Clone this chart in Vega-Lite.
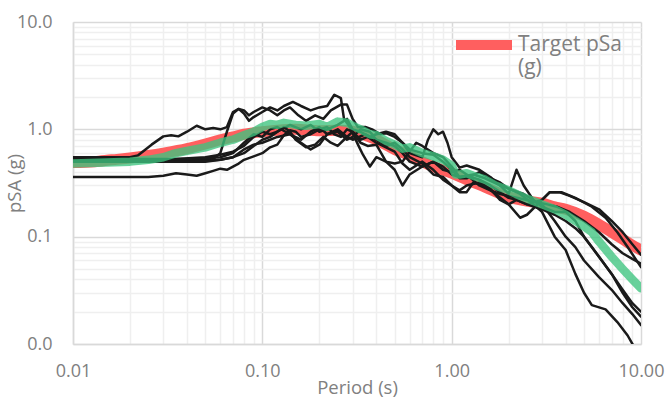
{
  "$schema": "https://vega.github.io/schema/vega-lite/v6.json",
  "autosize": "none",
  "width": 568,
  "height": 322,
  "padding": {"left": 73, "top": 22, "right": 29, "bottom": 54},
  "background": "white",
  "config": {
    "font": "Open Sans",
    "view": {"stroke": null},
    "axis": {
      "labelFont": "Open Sans",
      "titleFont": "Open Sans",
      "labelColor": "#808080",
      "titleColor": "#808080",
      "labelFontSize": 18,
      "titleFontSize": 18.5,
      "titleFontWeight": "normal",
      "ticks": false,
      "tickSize": 0,
      "domainColor": "#d9d9d9",
      "domainWidth": 1.5,
      "labelOverlap": false,
      "labelFlush": false,
      "labelBound": false
    }
  },
  "data": {
    "values": [
      {"s":"Target","T":0.01,"v":0.49},{"s":"Target","T":0.013,"v":0.5},{"s":"Target","T":0.016,"v":0.52},{"s":"Target","T":0.02,"v":0.54},{"s":"Target","T":0.025,"v":0.57},{"s":"Target","T":0.03,"v":0.6},{"s":"Target","T":0.04,"v":0.66},{"s":"Target","T":0.05,"v":0.73},{"s":"Target","T":0.06,"v":0.8},{"s":"Target","T":0.07,"v":0.85},{"s":"Target","T":0.08,"v":0.9},{"s":"Target","T":0.1,"v":0.95},{"s":"Target","T":0.12,"v":0.98},{"s":"Target","T":0.15,"v":1.0},{"s":"Target","T":0.2,"v":0.97},{"s":"Target","T":0.25,"v":0.98},{"s":"Target","T":0.3,"v":0.96},{"s":"Target","T":0.35,"v":0.88},{"s":"Target","T":0.4,"v":0.8},{"s":"Target","T":0.5,"v":0.65},{"s":"Target","T":0.6,"v":0.57},{"s":"Target","T":0.7,"v":0.5},{"s":"Target","T":0.8,"v":0.45},{"s":"Target","T":1.0,"v":0.39},{"s":"Target","T":1.2,"v":0.34},{"s":"Target","T":1.5,"v":0.29},{"s":"Target","T":2.0,"v":0.235},{"s":"Target","T":2.5,"v":0.215},{"s":"Target","T":3.0,"v":0.205},{"s":"Target","T":3.5,"v":0.19},{"s":"Target","T":4.0,"v":0.18},{"s":"Target","T":5.0,"v":0.155},{"s":"Target","T":6.0,"v":0.13},{"s":"Target","T":7.0,"v":0.11},{"s":"Target","T":8.0,"v":0.095},{"s":"Target","T":9.0,"v":0.083},{"s":"Target","T":10.0,"v":0.075},

      {"s":"Mean","T":0.01,"v":0.48},{"s":"Mean","T":0.015,"v":0.49},{"s":"Mean","T":0.02,"v":0.5},{"s":"Mean","T":0.025,"v":0.52},{"s":"Mean","T":0.03,"v":0.55},{"s":"Mean","T":0.035,"v":0.6},{"s":"Mean","T":0.04,"v":0.63},{"s":"Mean","T":0.05,"v":0.68},{"s":"Mean","T":0.06,"v":0.75},{"s":"Mean","T":0.07,"v":0.8},{"s":"Mean","T":0.08,"v":0.88},{"s":"Mean","T":0.09,"v":0.95},{"s":"Mean","T":0.1,"v":1.05},{"s":"Mean","T":0.11,"v":1.12},{"s":"Mean","T":0.12,"v":1.1},{"s":"Mean","T":0.13,"v":1.15},{"s":"Mean","T":0.15,"v":1.1},{"s":"Mean","T":0.17,"v":1.08},{"s":"Mean","T":0.2,"v":1.12},{"s":"Mean","T":0.22,"v":1.05},{"s":"Mean","T":0.25,"v":1.18},{"s":"Mean","T":0.28,"v":1.15},{"s":"Mean","T":0.3,"v":1.08},{"s":"Mean","T":0.33,"v":1.0},{"s":"Mean","T":0.37,"v":0.9},{"s":"Mean","T":0.4,"v":0.88},{"s":"Mean","T":0.45,"v":0.78},{"s":"Mean","T":0.5,"v":0.72},{"s":"Mean","T":0.55,"v":0.66},{"s":"Mean","T":0.6,"v":0.68},{"s":"Mean","T":0.7,"v":0.6},{"s":"Mean","T":0.8,"v":0.56},{"s":"Mean","T":0.9,"v":0.52},{"s":"Mean","T":1.0,"v":0.46},{"s":"Mean","T":1.05,"v":0.38},{"s":"Mean","T":1.1,"v":0.38},{"s":"Mean","T":1.2,"v":0.39},{"s":"Mean","T":1.3,"v":0.37},{"s":"Mean","T":1.5,"v":0.34},{"s":"Mean","T":1.7,"v":0.3},{"s":"Mean","T":2.0,"v":0.27},{"s":"Mean","T":2.3,"v":0.24},{"s":"Mean","T":2.6,"v":0.22},{"s":"Mean","T":3.0,"v":0.2},{"s":"Mean","T":3.5,"v":0.18},{"s":"Mean","T":4.0,"v":0.16},{"s":"Mean","T":4.5,"v":0.14},{"s":"Mean","T":5.0,"v":0.125},{"s":"Mean","T":5.5,"v":0.11},{"s":"Mean","T":6.0,"v":0.09},{"s":"Mean","T":7.0,"v":0.065},{"s":"Mean","T":8.0,"v":0.05},{"s":"Mean","T":9.0,"v":0.04},{"s":"Mean","T":10.0,"v":0.033},

      {"s":"A","T":0.01,"v":0.55},{"s":"A","T":0.02,"v":0.55},{"s":"A","T":0.022,"v":0.57},{"s":"A","T":0.026,"v":0.72},{"s":"A","T":0.03,"v":0.86},{"s":"A","T":0.033,"v":0.88},{"s":"A","T":0.036,"v":0.86},{"s":"A","T":0.04,"v":0.95},{"s":"A","T":0.045,"v":1.08},{"s":"A","T":0.05,"v":1.0},{"s":"A","T":0.055,"v":1.03},{"s":"A","T":0.06,"v":1.0},{"s":"A","T":0.065,"v":1.05},{"s":"A","T":0.07,"v":1.45},{"s":"A","T":0.075,"v":1.55},{"s":"A","T":0.08,"v":1.4},{"s":"A","T":0.085,"v":1.2},{"s":"A","T":0.09,"v":1.3},{"s":"A","T":0.1,"v":1.45},{"s":"A","T":0.11,"v":1.6},{"s":"A","T":0.12,"v":1.5},{"s":"A","T":0.13,"v":1.65},{"s":"A","T":0.145,"v":1.8},{"s":"A","T":0.16,"v":1.65},{"s":"A","T":0.18,"v":1.5},{"s":"A","T":0.2,"v":1.6},{"s":"A","T":0.22,"v":1.65},{"s":"A","T":0.24,"v":2.1},{"s":"A","T":0.26,"v":1.95},{"s":"A","T":0.27,"v":1.25},{"s":"A","T":0.29,"v":1.05},{"s":"A","T":0.32,"v":0.72},{"s":"A","T":0.34,"v":0.58},{"s":"A","T":0.37,"v":0.45},{"s":"A","T":0.4,"v":0.55},{"s":"A","T":0.45,"v":0.5},{"s":"A","T":0.5,"v":0.48},{"s":"A","T":0.55,"v":0.5},{"s":"A","T":0.6,"v":0.62},{"s":"A","T":0.65,"v":0.75},{"s":"A","T":0.7,"v":0.7},{"s":"A","T":0.8,"v":0.6},{"s":"A","T":0.9,"v":0.55},{"s":"A","T":1.0,"v":0.45},{"s":"A","T":1.1,"v":0.36},{"s":"A","T":1.2,"v":0.37},{"s":"A","T":1.4,"v":0.34},{"s":"A","T":1.6,"v":0.3},{"s":"A","T":1.8,"v":0.26},{"s":"A","T":2.0,"v":0.23},{"s":"A","T":2.2,"v":0.22},{"s":"A","T":2.5,"v":0.2},{"s":"A","T":3.0,"v":0.22},{"s":"A","T":3.3,"v":0.26},{"s":"A","T":3.7,"v":0.26},{"s":"A","T":4.2,"v":0.24},{"s":"A","T":5.0,"v":0.21},{"s":"A","T":6.0,"v":0.18},{"s":"A","T":7.0,"v":0.14},{"s":"A","T":8.0,"v":0.11},{"s":"A","T":9.0,"v":0.085},{"s":"A","T":10.0,"v":0.068},

      {"s":"B","T":0.01,"v":0.52},{"s":"B","T":0.03,"v":0.52},{"s":"B","T":0.05,"v":0.52},{"s":"B","T":0.055,"v":0.53},{"s":"B","T":0.06,"v":0.6},{"s":"B","T":0.065,"v":0.95},{"s":"B","T":0.07,"v":1.4},{"s":"B","T":0.075,"v":1.55},{"s":"B","T":0.08,"v":1.5},{"s":"B","T":0.085,"v":1.35},{"s":"B","T":0.09,"v":1.45},{"s":"B","T":0.1,"v":1.6},{"s":"B","T":0.11,"v":1.5},{"s":"B","T":0.12,"v":1.35},{"s":"B","T":0.13,"v":1.5},{"s":"B","T":0.14,"v":1.6},{"s":"B","T":0.155,"v":1.35},{"s":"B","T":0.17,"v":1.2},{"s":"B","T":0.19,"v":1.35},{"s":"B","T":0.21,"v":1.25},{"s":"B","T":0.23,"v":1.5},{"s":"B","T":0.26,"v":1.7},{"s":"B","T":0.28,"v":1.7},{"s":"B","T":0.3,"v":1.25},{"s":"B","T":0.32,"v":1.05},{"s":"B","T":0.35,"v":1.05},{"s":"B","T":0.38,"v":1.0},{"s":"B","T":0.42,"v":0.9},{"s":"B","T":0.45,"v":0.92},{"s":"B","T":0.5,"v":0.85},{"s":"B","T":0.55,"v":0.75},{"s":"B","T":0.6,"v":0.6},{"s":"B","T":0.7,"v":0.55},{"s":"B","T":0.75,"v":0.8},{"s":"B","T":0.8,"v":1.0},{"s":"B","T":0.85,"v":0.9},{"s":"B","T":0.9,"v":0.95},{"s":"B","T":0.95,"v":0.75},{"s":"B","T":1.0,"v":0.55},{"s":"B","T":1.1,"v":0.44},{"s":"B","T":1.2,"v":0.46},{"s":"B","T":1.4,"v":0.42},{"s":"B","T":1.6,"v":0.36},{"s":"B","T":1.8,"v":0.3},{"s":"B","T":2.0,"v":0.25},{"s":"B","T":2.2,"v":0.42},{"s":"B","T":2.4,"v":0.3},{"s":"B","T":2.7,"v":0.22},{"s":"B","T":3.0,"v":0.19},{"s":"B","T":3.5,"v":0.17},{"s":"B","T":4.0,"v":0.17},{"s":"B","T":4.5,"v":0.14},{"s":"B","T":5.0,"v":0.1},{"s":"B","T":5.5,"v":0.08},{"s":"B","T":6.0,"v":0.065},{"s":"B","T":7.0,"v":0.045},{"s":"B","T":8.0,"v":0.03},{"s":"B","T":9.0,"v":0.022},{"s":"B","T":10.0,"v":0.018},

      {"s":"C","T":0.01,"v":0.5},{"s":"C","T":0.03,"v":0.52},{"s":"C","T":0.05,"v":0.55},{"s":"C","T":0.06,"v":0.58},{"s":"C","T":0.07,"v":0.62},{"s":"C","T":0.08,"v":0.7},{"s":"C","T":0.09,"v":0.85},{"s":"C","T":0.1,"v":0.95},{"s":"C","T":0.11,"v":0.9},{"s":"C","T":0.12,"v":0.95},{"s":"C","T":0.13,"v":1.05},{"s":"C","T":0.14,"v":0.95},{"s":"C","T":0.15,"v":0.8},{"s":"C","T":0.17,"v":0.68},{"s":"C","T":0.19,"v":0.72},{"s":"C","T":0.21,"v":0.85},{"s":"C","T":0.23,"v":0.75},{"s":"C","T":0.25,"v":0.7},{"s":"C","T":0.27,"v":0.8},{"s":"C","T":0.3,"v":0.95},{"s":"C","T":0.33,"v":0.8},{"s":"C","T":0.36,"v":0.85},{"s":"C","T":0.4,"v":0.75},{"s":"C","T":0.45,"v":0.68},{"s":"C","T":0.5,"v":0.62},{"s":"C","T":0.55,"v":0.48},{"s":"C","T":0.6,"v":0.42},{"s":"C","T":0.7,"v":0.5},{"s":"C","T":0.8,"v":0.42},{"s":"C","T":0.9,"v":0.34},{"s":"C","T":1.0,"v":0.3},{"s":"C","T":1.1,"v":0.26},{"s":"C","T":1.2,"v":0.26},{"s":"C","T":1.3,"v":0.32},{"s":"C","T":1.5,"v":0.3},{"s":"C","T":1.7,"v":0.25},{"s":"C","T":2.0,"v":0.2},{"s":"C","T":2.3,"v":0.15},{"s":"C","T":2.5,"v":0.16},{"s":"C","T":3.0,"v":0.22},{"s":"C","T":3.3,"v":0.26},{"s":"C","T":3.8,"v":0.26},{"s":"C","T":4.5,"v":0.23},{"s":"C","T":5.5,"v":0.19},{"s":"C","T":6.5,"v":0.15},{"s":"C","T":7.5,"v":0.11},{"s":"C","T":8.5,"v":0.08},{"s":"C","T":10.0,"v":0.052},

      {"s":"D","T":0.01,"v":0.36},{"s":"D","T":0.025,"v":0.36},{"s":"D","T":0.03,"v":0.37},{"s":"D","T":0.035,"v":0.39},{"s":"D","T":0.04,"v":0.38},{"s":"D","T":0.045,"v":0.37},{"s":"D","T":0.05,"v":0.39},{"s":"D","T":0.055,"v":0.41},{"s":"D","T":0.06,"v":0.43},{"s":"D","T":0.065,"v":0.42},{"s":"D","T":0.07,"v":0.45},{"s":"D","T":0.075,"v":0.48},{"s":"D","T":0.08,"v":0.52},{"s":"D","T":0.09,"v":0.56},{"s":"D","T":0.1,"v":0.6},{"s":"D","T":0.11,"v":0.68},{"s":"D","T":0.12,"v":0.72},{"s":"D","T":0.13,"v":0.88},{"s":"D","T":0.14,"v":0.98},{"s":"D","T":0.15,"v":0.95},{"s":"D","T":0.16,"v":0.85},{"s":"D","T":0.18,"v":0.9},{"s":"D","T":0.2,"v":1.0},{"s":"D","T":0.22,"v":1.05},{"s":"D","T":0.24,"v":0.9},{"s":"D","T":0.26,"v":0.85},{"s":"D","T":0.28,"v":1.0},{"s":"D","T":0.3,"v":0.95},{"s":"D","T":0.33,"v":0.75},{"s":"D","T":0.36,"v":0.7},{"s":"D","T":0.4,"v":0.72},{"s":"D","T":0.45,"v":0.5},{"s":"D","T":0.5,"v":0.42},{"s":"D","T":0.55,"v":0.3},{"s":"D","T":0.6,"v":0.38},{"s":"D","T":0.7,"v":0.45},{"s":"D","T":0.8,"v":0.5},{"s":"D","T":0.9,"v":0.42},{"s":"D","T":1.0,"v":0.4},{"s":"D","T":1.1,"v":0.42},{"s":"D","T":1.2,"v":0.38},{"s":"D","T":1.4,"v":0.3},{"s":"D","T":1.6,"v":0.27},{"s":"D","T":1.8,"v":0.25},{"s":"D","T":2.0,"v":0.24},{"s":"D","T":2.5,"v":0.22},{"s":"D","T":3.0,"v":0.2},{"s":"D","T":3.5,"v":0.14},{"s":"D","T":4.0,"v":0.1},{"s":"D","T":4.5,"v":0.08},{"s":"D","T":5.0,"v":0.06},{"s":"D","T":6.0,"v":0.042},{"s":"D","T":7.0,"v":0.032},{"s":"D","T":8.0,"v":0.024},{"s":"D","T":9.0,"v":0.019},{"s":"D","T":10.0,"v":0.015},

      {"s":"E","T":0.01,"v":0.5},{"s":"E","T":0.04,"v":0.5},{"s":"E","T":0.06,"v":0.52},{"s":"E","T":0.07,"v":0.55},{"s":"E","T":0.08,"v":0.65},{"s":"E","T":0.09,"v":0.72},{"s":"E","T":0.1,"v":0.75},{"s":"E","T":0.12,"v":0.85},{"s":"E","T":0.14,"v":0.9},{"s":"E","T":0.16,"v":0.75},{"s":"E","T":0.18,"v":0.65},{"s":"E","T":0.2,"v":0.72},{"s":"E","T":0.22,"v":0.9},{"s":"E","T":0.25,"v":1.0},{"s":"E","T":0.28,"v":0.85},{"s":"E","T":0.3,"v":0.8},{"s":"E","T":0.35,"v":0.9},{"s":"E","T":0.4,"v":0.8},{"s":"E","T":0.45,"v":0.75},{"s":"E","T":0.5,"v":0.7},{"s":"E","T":0.55,"v":0.6},{"s":"E","T":0.6,"v":0.5},{"s":"E","T":0.7,"v":0.45},{"s":"E","T":0.8,"v":0.5},{"s":"E","T":0.9,"v":0.45},{"s":"E","T":1.0,"v":0.38},{"s":"E","T":1.1,"v":0.36},{"s":"E","T":1.3,"v":0.38},{"s":"E","T":1.5,"v":0.35},{"s":"E","T":1.8,"v":0.3},{"s":"E","T":2.0,"v":0.28},{"s":"E","T":2.3,"v":0.25},{"s":"E","T":2.7,"v":0.2},{"s":"E","T":3.0,"v":0.17},{"s":"E","T":3.5,"v":0.1},{"s":"E","T":4.0,"v":0.075},{"s":"E","T":4.5,"v":0.045},{"s":"E","T":5.0,"v":0.03},{"s":"E","T":5.5,"v":0.023},{"s":"E","T":6.5,"v":0.021},{"s":"E","T":7.5,"v":0.016},{"s":"E","T":8.5,"v":0.012},{"s":"E","T":9.5,"v":0.0085},{"s":"E","T":10.0,"v":0.007},

      {"s":"F","T":0.01,"v":0.5},{"s":"F","T":0.03,"v":0.5},{"s":"F","T":0.05,"v":0.5},{"s":"F","T":0.06,"v":0.52},{"s":"F","T":0.07,"v":0.55},{"s":"F","T":0.08,"v":0.6},{"s":"F","T":0.09,"v":0.7},{"s":"F","T":0.1,"v":0.8},{"s":"F","T":0.11,"v":0.85},{"s":"F","T":0.12,"v":0.95},{"s":"F","T":0.14,"v":1.1},{"s":"F","T":0.16,"v":1.0},{"s":"F","T":0.18,"v":1.1},{"s":"F","T":0.2,"v":0.95},{"s":"F","T":0.22,"v":1.0},{"s":"F","T":0.25,"v":1.1},{"s":"F","T":0.28,"v":1.25},{"s":"F","T":0.3,"v":1.0},{"s":"F","T":0.33,"v":0.95},{"s":"F","T":0.37,"v":0.85},{"s":"F","T":0.4,"v":0.9},{"s":"F","T":0.45,"v":0.95},{"s":"F","T":0.5,"v":0.9},{"s":"F","T":0.55,"v":0.75},{"s":"F","T":0.6,"v":0.65},{"s":"F","T":0.7,"v":0.6},{"s":"F","T":0.8,"v":0.58},{"s":"F","T":0.9,"v":0.5},{"s":"F","T":1.0,"v":0.42},{"s":"F","T":1.1,"v":0.35},{"s":"F","T":1.2,"v":0.35},{"s":"F","T":1.4,"v":0.4},{"s":"F","T":1.6,"v":0.35},{"s":"F","T":1.8,"v":0.32},{"s":"F","T":2.0,"v":0.28},{"s":"F","T":2.4,"v":0.25},{"s":"F","T":2.8,"v":0.21},{"s":"F","T":3.2,"v":0.2},{"s":"F","T":3.6,"v":0.19},{"s":"F","T":4.2,"v":0.17},{"s":"F","T":5.0,"v":0.14},{"s":"F","T":6.0,"v":0.11},{"s":"F","T":7.0,"v":0.085},{"s":"F","T":8.0,"v":0.07},{"s":"F","T":9.0,"v":0.062},{"s":"F","T":10.0,"v":0.056},

      {"s":"G","T":0.01,"v":0.53},{"s":"G","T":0.04,"v":0.53},{"s":"G","T":0.06,"v":0.55},{"s":"G","T":0.07,"v":0.6},{"s":"G","T":0.08,"v":0.75},{"s":"G","T":0.09,"v":0.9},{"s":"G","T":0.1,"v":0.85},{"s":"G","T":0.11,"v":1.0},{"s":"G","T":0.12,"v":1.05},{"s":"G","T":0.14,"v":0.9},{"s":"G","T":0.16,"v":0.8},{"s":"G","T":0.18,"v":0.95},{"s":"G","T":0.2,"v":1.05},{"s":"G","T":0.22,"v":0.9},{"s":"G","T":0.25,"v":0.95},{"s":"G","T":0.28,"v":0.8},{"s":"G","T":0.3,"v":0.85},{"s":"G","T":0.33,"v":1.0},{"s":"G","T":0.37,"v":0.95},{"s":"G","T":0.4,"v":0.8},{"s":"G","T":0.45,"v":0.7},{"s":"G","T":0.5,"v":0.75},{"s":"G","T":0.55,"v":0.65},{"s":"G","T":0.6,"v":0.55},{"s":"G","T":0.7,"v":0.48},{"s":"G","T":0.8,"v":0.38},{"s":"G","T":0.9,"v":0.36},{"s":"G","T":1.0,"v":0.3},{"s":"G","T":1.1,"v":0.27},{"s":"G","T":1.2,"v":0.3},{"s":"G","T":1.4,"v":0.32},{"s":"G","T":1.6,"v":0.28},{"s":"G","T":1.8,"v":0.22},{"s":"G","T":2.0,"v":0.2},{"s":"G","T":2.2,"v":0.22},{"s":"G","T":2.5,"v":0.2},{"s":"G","T":3.0,"v":0.18},{"s":"G","T":3.5,"v":0.16},{"s":"G","T":4.0,"v":0.14},{"s":"G","T":4.5,"v":0.12},{"s":"G","T":5.0,"v":0.1},{"s":"G","T":6.0,"v":0.065},{"s":"G","T":7.0,"v":0.045},{"s":"G","T":8.0,"v":0.032},{"s":"G","T":9.0,"v":0.024},{"s":"G","T":10.0,"v":0.02}
    ]
  },
  "encoding": {
    "x": {
      "field": "T", "type": "quantitative",
      "scale": {"type": "log", "domain": [0.01, 10], "nice": false},
      "axis": {
        "title": "Period (s)",
        "values": [0.01,0.02,0.03,0.04,0.05,0.06,0.07,0.08,0.09,0.1,0.2,0.3,0.4,0.5,0.6,0.7,0.8,0.9,1,2,3,4,5,6,7,8,9,10],
        "labelExpr": "abs(log(datum.value)/LN10 - round(log(datum.value)/LN10)) < 0.001 ? format(datum.value, '.2f') : ''",
        "grid": true,
        "gridColor": {"condition": {"test": "abs(log(datum.value)/LN10 - round(log(datum.value)/LN10)) < 0.001", "value": "#d9d9d9"}, "value": "#efefef"},
        "gridWidth": 1.5,
        "labelPadding": 18,
        "titleBaseline": "middle",
        "titleY": 43
      }
    },
    "y": {
      "field": "v", "type": "quantitative",
      "scale": {"type": "log", "domain": [0.01, 10], "nice": false},
      "axis": {
        "title": "pSA (g)",
        "values": [0.01,0.02,0.03,0.04,0.05,0.06,0.07,0.08,0.09,0.1,0.2,0.3,0.4,0.5,0.6,0.7,0.8,0.9,1,2,3,4,5,6,7,8,9,10],
        "labelExpr": "abs(log(datum.value)/LN10 - round(log(datum.value)/LN10)) < 0.001 ? format(datum.value, '.1f') : ''",
        "grid": true,
        "gridColor": {"condition": {"test": "abs(log(datum.value)/LN10 - round(log(datum.value)/LN10)) < 0.001", "value": "#d9d9d9"}, "value": "#efefef"},
        "gridWidth": 1.5,
        "labelPadding": 21,
        "titleX": -59,
        "titleY": 161,
        "titleBaseline": "middle",
        "titleAngle": -90
      }
    }
  },
  "layer": [
    {
      "transform": [{"filter": "datum.s === 'Target'"}],
      "mark": {"type": "line", "clip": true, "strokeWidth": 11, "strokeCap": "round", "strokeJoin": "round", "interpolate": "monotone"},
      "encoding": {
        "color": {
          "datum": "Target pSa (g)",
          "type": "nominal",
          "scale": {"domain": ["Target pSa (g)"], "range": ["#ff5f5f"]},
          "legend": {
            "title": null,
            "orient": "none",
            "legendX": 378,
            "legendY": -10,
            "symbolType": "stroke",
            "symbolSize": 3136,
            "symbolStrokeWidth": 10,
            "symbolStrokeColor": "#ff5f5f",
            "labelFont": "Open Sans",
            "labelFontSize": 21,
            "labelColor": "#808080",
            "labelExpr": "['Target pSa', '(g)']",
            "labelBaseline": "middle",
            "labelOffset": 1,
            "labelLimit": 300
          }
        }
      }
    },
    {
      "transform": [{"filter": "indexof(['A','B','C','D','E','F','G'], datum.s) >= 0"}],
      "mark": {"type": "line", "clip": true, "strokeWidth": 2.5, "color": "#1a1a1a", "strokeJoin": "round", "strokeCap": "round"},
      "encoding": {"detail": {"field": "s", "type": "nominal"}}
    },
    {
      "transform": [{"filter": "datum.s === 'Mean'"}],
      "mark": {"type": "line", "clip": true, "strokeWidth": 8.5, "color": "#3ec47f", "opacity": 0.78, "strokeJoin": "round", "strokeCap": "round"},
      "encoding": {}
    }
  ]
}
